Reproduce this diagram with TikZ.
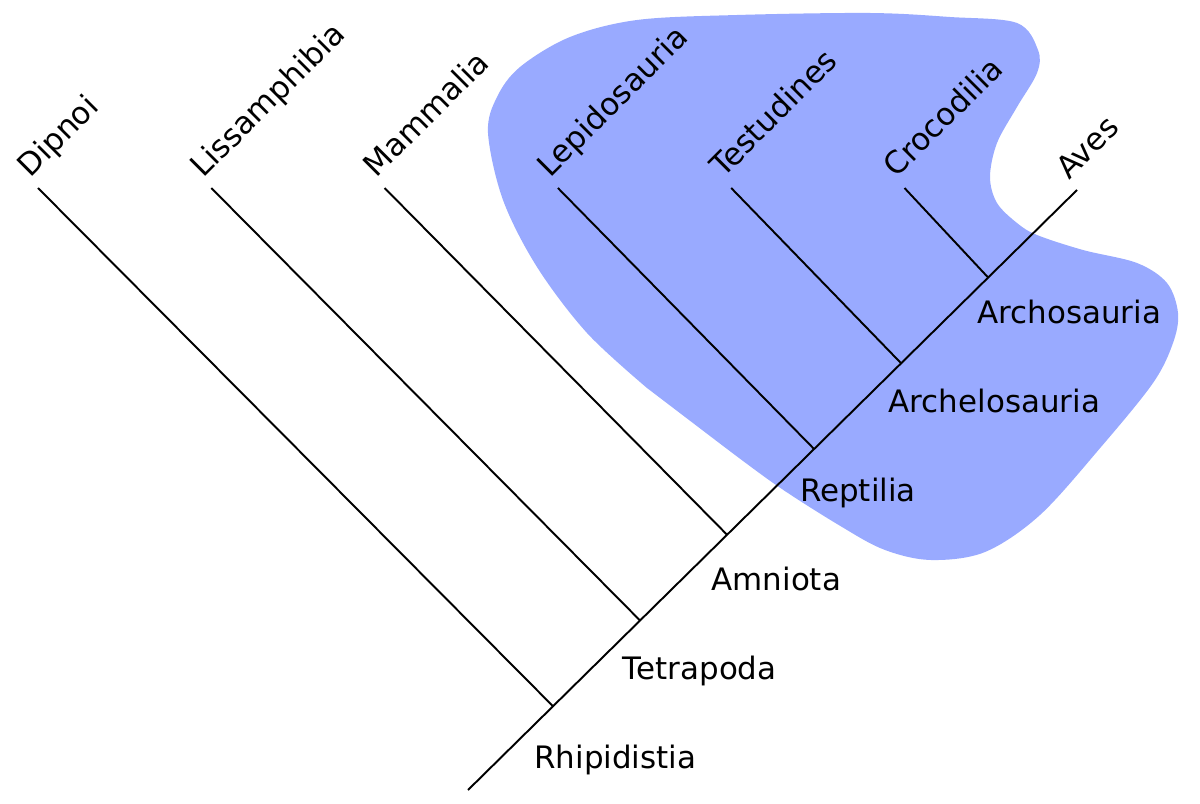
\documentclass[tikz,border=0pt]{standalone}
\usepackage{fontspec}
\setmainfont{DejaVu Sans}
\usetikzlibrary{calc}
\definecolor{sauroblue}{HTML}{99AAFF}
\tikzset{
  branch/.style={line width=1.1pt},
  taxon/.style={rotate=45,anchor=base west,inner sep=0pt},
  clade/.style={anchor=base west,inner sep=0pt}
}
\begin{document}
\begin{tikzpicture}[x=0.02cm,y=-0.02cm,font=\fontsize{17.6}{21}\selectfont,line join=round]
	\useasboundingbox (0,0) rectangle (1200,804);
	% Sauropsida blob
	\fill[sauroblue] plot[smooth,tension=0.55] coordinates {
		(647,388) (587,333) (537,267) (503,200) (488,133) (497,97) (520,67) (570,37) (637,20)
		(737,15) (870,13) (950,17) (1017,23) (1038,50) (1037,73) (1017,107) (997,143) (990,177)
		(997,203) (1017,223) (1037,235) (1083,250) (1137,263) (1167,283) (1178,313) (1173,343)
		(1153,383) (1101,447) (1040,515) (985,552) (931,560) (885,550) (842,527) (776,485) (710,436)} -- cycle;
	% spine
	\coordinate (root) at (468,790);
	\coordinate (aves) at (1077,190);
	\draw[branch] (root) -- (aves);
	\node[taxon] (taves) at ($(aves)+(-8,-9)$) {Aves};
	% side branches
	\foreach \n/\txt [count=\i from 0] in {dip/Dipnoi,lis/Lissamphibia,mam/Mammalia,lep/Lepidosauria,tes/Testudines,cro/Crocodilia}{
		\coordinate (j\n) at ($(root)!{0.1396+0.1429*\i}!(aves)$);
		\coordinate (l\n) at ({38+173.3*\i},188);
		\draw[branch] (j\n) -- (l\n);
		\node[taxon] (t\n) at ($(l\n)+(-8,-9)$) {\txt};
	}
	% clade names
	\foreach \n/\txt [count=\i from 0] in {rhi/Rhipidistia,tet/Tetrapoda,amn/Amniota,rep/Reptilia,arl/Archelosauria,ars/Archosauria}
		\node[clade] (c\n) at ({534+88.6*\i},{768-89*\i}) {\txt};
\end{tikzpicture}
\end{document}
